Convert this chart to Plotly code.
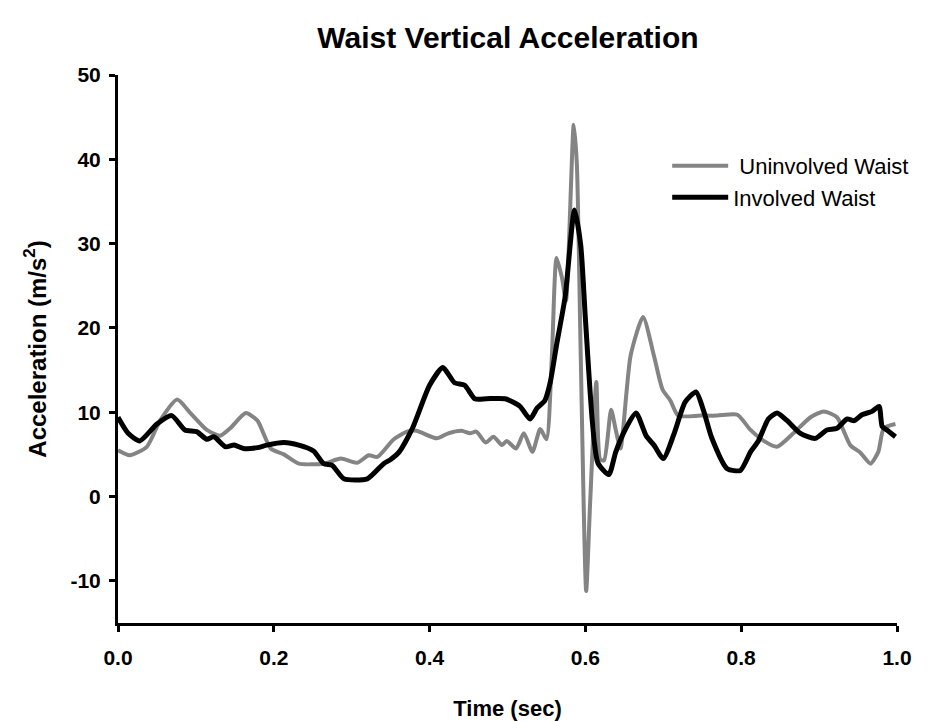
import plotly.graph_objects as go

# Uninvolved waist (gray)
t_uninv = [0.000, 0.015, 0.037, 0.054, 0.076, 0.093, 0.114, 0.131, 0.144, 0.164,
           0.179, 0.196, 0.213, 0.232, 0.264, 0.286, 0.307, 0.322, 0.333, 0.354,
           0.371, 0.383, 0.409, 0.424, 0.441, 0.452, 0.460, 0.472, 0.482, 0.493,
           0.499, 0.511, 0.521, 0.532, 0.542, 0.550, 0.557, 0.563, 0.570, 0.575,
           0.585, 0.589, 0.594, 0.601, 0.606, 0.614, 0.619, 0.624, 0.633, 0.639,
           0.645, 0.658, 0.674, 0.688, 0.699, 0.709, 0.719, 0.748, 0.769, 0.795,
           0.812, 0.829, 0.846, 0.867, 0.889, 0.906, 0.923, 0.940, 0.953, 0.966,
           0.976, 0.983, 0.998]
a_uninv = [5.5, 4.9, 5.9, 9.0, 11.5, 9.9, 7.9, 7.2, 8.1, 9.9,
           9.0, 5.7, 5.0, 3.9, 3.9, 4.5, 4.0, 4.9, 4.7, 6.8,
           7.7, 7.8, 6.9, 7.5, 7.8, 7.5, 7.7, 6.4, 7.1, 6.1,
           6.6, 5.7, 7.5, 5.3, 8.0, 6.8, 16.7, 28.3, 25.9, 23.2,
           44.1, 39.5, 16.7, -11.2, -0.9, 13.6, 4.4, 4.3, 10.3, 7.9,
           5.7, 16.7, 21.3, 16.7, 12.7, 11.4, 9.6, 9.6, 9.6, 9.7,
           7.9, 6.6, 5.9, 7.5, 9.4, 10.1, 9.4, 6.1, 5.2, 3.9,
           5.3, 8.1, 8.6]

# Involved waist (black)
t_inv = [0.000, 0.013, 0.028, 0.050, 0.069, 0.086, 0.101, 0.114, 0.123, 0.138,
         0.149, 0.161, 0.179, 0.191, 0.213, 0.232, 0.251, 0.264, 0.275, 0.290,
         0.320, 0.341, 0.350, 0.361, 0.378, 0.400, 0.417, 0.432, 0.445, 0.458,
         0.473, 0.497, 0.516, 0.529, 0.538, 0.548, 0.555, 0.563, 0.574, 0.586,
         0.594, 0.600, 0.609, 0.616, 0.630, 0.639, 0.652, 0.665, 0.678, 0.688,
         0.700, 0.714, 0.728, 0.742, 0.752, 0.762, 0.782, 0.799, 0.812, 0.822,
         0.835, 0.846, 0.859, 0.876, 0.895, 0.910, 0.923, 0.936, 0.945, 0.955,
         0.968, 0.977, 0.981, 0.987, 0.998]
a_inv = [9.4, 7.5, 6.6, 8.6, 9.6, 7.9, 7.7, 6.8, 7.1, 5.9,
         6.1, 5.7, 5.8, 6.1, 6.4, 6.1, 5.4, 3.9, 3.7, 2.1,
         2.1, 3.9, 4.4, 5.3, 8.1, 13.2, 15.3, 13.5, 13.2, 11.6,
         11.6, 11.6, 10.7, 9.2, 10.5, 11.4, 13.6, 18.0, 23.7, 34.0,
         29.8, 21.1, 8.8, 4.0, 2.6, 5.3, 8.1, 9.9, 7.2, 6.1,
         4.5, 7.5, 11.2, 12.4, 10.1, 7.0, 3.3, 3.1, 5.3, 6.6,
         9.2, 9.9, 9.0, 7.5, 6.9, 7.9, 8.1, 9.2, 9.0, 9.7,
         10.1, 10.7, 8.3, 7.9, 7.1]

x_ticks = [0.0, 0.2, 0.4, 0.6, 0.8, 1.0]
x_tick_labels = ["0.0", "0.2", "0.4", "0.6", "0.8", "1.0"]
y_ticks = [-10, 0, 10, 20, 30, 40, 50]
y_tick_labels = ["-10", "0", "10", "20", "30", "40", "50"]

FONT = "Liberation Sans, Arial, sans-serif"

fig = go.Figure()
fig.add_trace(go.Scatter(x=t_uninv, y=a_uninv, mode="lines", name=" Uninvolved Waist",
                         line=dict(color="#848484", width=4, shape="spline", smoothing=0.6)))
fig.add_trace(go.Scatter(x=t_inv, y=a_inv, mode="lines", name="Involved Waist",
                         line=dict(color="#000000", width=5, shape="spline", smoothing=0.6)))

fig.update_layout(
    width=932, height=721,
    margin=dict(l=118, r=35, t=75, b=98),
    paper_bgcolor="white", plot_bgcolor="white",
    font=dict(family=FONT, color="black"),
    title=dict(text="<b>Waist Vertical Acceleration</b>", x=0.545, xanchor="center",
               y=0.948, yanchor="middle", font=dict(size=30, family=FONT, color="black")),
    showlegend=True,
    legend=dict(x=0.705, y=0.805, xanchor="left", yanchor="middle",
                bgcolor="rgba(0,0,0,0)", font=dict(size=22, family=FONT, color="black"),
                tracegroupgap=0, itemwidth=56),
)
fig.update_xaxes(range=[0, 1.0], tickvals=x_ticks, ticktext=x_tick_labels,
                 automargin=False,
                 showgrid=False, zeroline=False, showline=True, linecolor="black", linewidth=3,
                 ticks="outside", ticklen=6, tickwidth=3, tickcolor="black",
                 ticklabelstandoff=8,
                 tickfont=dict(size=21, family=FONT, color="black", weight="bold"),
                 title=dict(text="<b>Time (sec)</b>", font=dict(size=22, family=FONT, color="black"),
                            standoff=35))
fig.update_yaxes(range=[-15, 50], tickvals=y_ticks, ticktext=y_tick_labels,
                 automargin=False,
                 showgrid=False, zeroline=False, showline=True, linecolor="black", linewidth=3,
                 ticks="outside", ticklen=6, tickwidth=3, tickcolor="black",
                 ticklabelstandoff=4,
                 tickfont=dict(size=21, family=FONT, color="black", weight="bold"),
                 title=dict(text="<b>Acceleration (m/s<sup>2</sup>)</b>",
                            font=dict(size=24, family=FONT, color="black"), standoff=18))

fig.write_html("out.html")
